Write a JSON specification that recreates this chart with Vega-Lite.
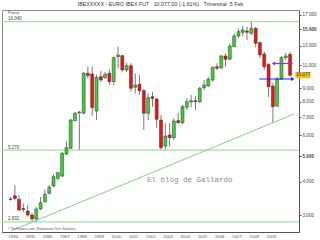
{
"$schema": "https://vega.github.io/schema/vega-lite/v6.json",
"width": 297, "height": 222,
"autosize": {"type": "none"},
"padding": {"left": 2, "top": 10, "right": 21, "bottom": 8},
"background": "white",
"title": {"text": "IBEXXXXX - EURO IBEX FUT\u00a0\u00a0\u00a010.077,00 (-1,61%)\u00a0\u00a0\u00a0Trimestral\u00a0\u00a05 Feb", "fontSize": 5.3, "fontWeight": "normal", "color": "#333", "offset": 3, "dx": 10, "anchor": "middle", "font": "Liberation Sans"},
"config": {"view": {"stroke": "#8a8a8a", "strokeWidth": 1}, "font": "Liberation Sans"},
"resolve": {"axis": {"x": "independent", "y": "independent"}},
"datasets": {
"candles": [
{"d":"1993-11-15","o":3450,"h":3510,"l":3405,"c":3437},
{"d":"1994-02-15","o":3552,"h":3896,"l":3437,"c":3461},
{"d":"1994-05-15","o":3443,"h":3573,"l":3111,"c":3138},
{"d":"1994-08-15","o":3179,"h":3320,"l":3084,"c":3152},
{"d":"1994-11-15","o":3111,"h":3277,"l":2966,"c":3005},
{"d":"1995-02-15","o":3005,"h":3058,"l":2853,"c":2903},
{"d":"1995-05-15","o":2903,"h":3221,"l":2832,"c":3165},
{"d":"1995-08-15","o":3165,"h":3512,"l":3138,"c":3343},
{"d":"1995-11-15","o":3372,"h":3747,"l":3349,"c":3595},
{"d":"1996-02-15","o":3626,"h":3896,"l":3595,"c":3819},
{"d":"1996-05-15","o":3862,"h":4285,"l":3829,"c":4186},
{"d":"1996-08-15","o":4128,"h":4371,"l":4069,"c":4334},
{"d":"1996-11-15","o":4211,"h":5184,"l":4175,"c":5127},
{"d":"1997-02-15","o":5096,"h":5668,"l":5052,"c":5382},
{"d":"1997-05-15","o":5354,"h":6899,"l":5321,"c":6840},
{"d":"1997-08-15","o":6799,"h":7331,"l":6781,"c":7249},
{"d":"1997-11-15","o":7267,"h":7395,"l":5280,"c":7331},
{"d":"1998-02-15","o":7249,"h":10366,"l":7205,"c":10249},
{"d":"1998-05-15","o":10249,"h":10852,"l":9815,"c":10039},
{"d":"1998-08-15","o":10187,"h":10852,"l":7100,"c":7609},
{"d":"1998-11-15","o":7395,"h":10100,"l":6840,"c":9900},
{"d":"1999-02-15","o":9953,"h":10456,"l":9506,"c":9672},
{"d":"1999-05-15","o":9866,"h":10393,"l":9756,"c":10161},
{"d":"1999-08-15","o":10249,"h":10611,"l":9262,"c":9531},
{"d":"1999-11-15","o":9531,"h":11834,"l":9262,"c":11732},
{"d":"2000-02-15","o":11834,"h":12900,"l":10703,"c":12010},
{"d":"2000-05-15","o":11938,"h":12010,"l":10393,"c":10547},
{"d":"2000-08-15","o":10547,"h":11205,"l":10366,"c":10947},
{"d":"2000-11-15","o":10947,"h":11176,"l":8740,"c":9000},
{"d":"2001-02-15","o":9079,"h":10249,"l":8618,"c":9262},
{"d":"2001-05-15","o":9318,"h":10100,"l":8493,"c":8816},
{"d":"2001-08-15","o":8816,"h":8946,"l":6273,"c":7249},
{"d":"2001-11-15","o":7249,"h":8618,"l":6840,"c":8296},
{"d":"2002-02-15","o":8369,"h":8717,"l":7655,"c":8253},
{"d":"2002-05-15","o":8203,"h":8275,"l":6366,"c":6882},
{"d":"2002-08-15","o":6840,"h":7143,"l":5270,"c":5382},
{"d":"2002-11-15","o":5462,"h":6647,"l":5290,"c":5955},
{"d":"2003-02-15","o":6007,"h":6647,"l":5429,"c":5868},
{"d":"2003-05-15","o":5868,"h":6941,"l":5752,"c":6781},
{"d":"2003-08-15","o":6799,"h":7286,"l":6647,"c":6681},
{"d":"2003-11-15","o":6681,"h":7789,"l":6605,"c":7675},
{"d":"2004-02-15","o":7635,"h":8253,"l":7459,"c":8014},
{"d":"2004-05-15","o":7993,"h":8493,"l":7655,"c":8084},
{"d":"2004-08-15","o":8084,"h":8420,"l":7459,"c":8014},
{"d":"2004-11-15","o":8014,"h":9103,"l":7925,"c":9000},
{"d":"2005-02-15","o":9048,"h":9672,"l":8869,"c":9262},
{"d":"2005-05-15","o":9182,"h":9953,"l":9127,"c":9731},
{"d":"2005-08-15","o":9672,"h":10852,"l":9531,"c":10796},
{"d":"2005-11-15","o":10852,"h":11176,"l":10547,"c":10703},
{"d":"2006-02-15","o":10759,"h":12010,"l":10611,"c":11906},
{"d":"2006-05-15","o":11906,"h":12188,"l":10852,"c":11571},
{"d":"2006-08-15","o":11571,"h":13290,"l":11501,"c":12983},
{"d":"2006-11-15","o":12905,"h":14490,"l":12838,"c":14156},
{"d":"2007-02-15","o":14156,"h":15129,"l":13877,"c":14691},
{"d":"2007-05-15","o":14615,"h":15435,"l":14071,"c":14909},
{"d":"2007-08-15","o":14781,"h":15342,"l":13675,"c":14615},
{"d":"2007-11-15","o":14490,"h":16040,"l":14279,"c":15129},
{"d":"2008-02-15","o":15129,"h":15302,"l":12838,"c":13290},
{"d":"2008-05-15","o":13359,"h":13475,"l":11671,"c":12010},
{"d":"2008-08-15","o":12114,"h":12358,"l":10547,"c":10852},
{"d":"2008-11-15","o":11080,"h":11176,"l":8347,"c":9127},
{"d":"2009-02-15","o":9182,"h":9424,"l":6700,"c":7675},
{"d":"2009-05-15","o":7722,"h":9953,"l":7635,"c":9756},
{"d":"2009-08-15","o":9756,"h":11906,"l":9672,"c":11732},
{"d":"2009-11-15","o":11732,"h":12252,"l":11501,"c":11906},
{"d":"2010-02-15","o":12083,"h":12293,"l":9953,"c":10077}
],
"levels": [
{"d":"1993-09-21","v":16040,"t":"16.040"},
{"d":"1993-09-21","v":5270,"t":"5.270"},
{"d":"1993-09-21","v":2832,"t":"2.832"}
],
"trend": [{"d":"1993-12-06","v":2624},{"d":"2010-05-09","v":7204}],
"guides": [
{"d":"2008-05-01","v":9756,"k":"a"},{"d":"2010-04-12","v":9756,"k":"a"},
{"d":"2009-02-26","v":11156,"k":"b"},{"d":"2010-04-12","v":11156,"k":"b"}
],
"arrows": [{"d":"2010-04-12","v":9756,"k":"a"},{"d":"2009-02-26","v":11156,"k":"b"}],
"last": [{"d":"2010-11-16","v":10077,"t":"10.077"}],
"watermark": [{"d":"2004-04-15","v":4069,"t":"El blog de Gallardo"}],
"credit": [{"d":"1993-09-21","v":2663,"t":"© ProFinance.com / Bolsamania Tech Solutions"}],
"caption": [{"d":"1993-09-21","v":17725,"t":"Precio"}]
},
"layer": [
{"data":{"name":"candles"},"mark":{"type":"rule","color":"#7a7a7a","strokeWidth":1},
 "encoding":{
  "x":{"field":"d","type":"temporal","scale":{"type":"time","domain":[{"year":1993,"month":9,"date":1},{"year":2010,"month":5,"date":9}]},
   "axis":{"orient":"bottom","title":null,"ticks":false,"grid":false,"domainColor":"#555","labelFontSize":4.3,"labelColor":"#555","labelPadding":2,"labelFlush":8,"labelOverlap":false,"tickCount":40,
    "values":[{"year":1994,"month":1,"date":1},{"year":1995,"month":1,"date":1},{"year":1996,"month":1,"date":1},{"year":1997,"month":1,"date":1},{"year":1998,"month":1,"date":1},{"year":1999,"month":1,"date":1},{"year":2000,"month":1,"date":1},{"year":2001,"month":1,"date":1},{"year":2002,"month":1,"date":1},{"year":2003,"month":1,"date":1},{"year":2004,"month":1,"date":1},{"year":2005,"month":1,"date":1},{"year":2006,"month":1,"date":1},{"year":2007,"month":1,"date":1},{"year":2008,"month":1,"date":1},{"year":2009,"month":1,"date":1}],"format":"%Y"}},
  "y":{"field":"l","type":"quantitative","scale":{"type":"log","domain":[2594,17725],"nice":false,"zero":false},
   "axis":{"orient":"right","title":null,"grid":false,"domainColor":"#555","tickColor":"#555","tickSize":2,"labelFontSize":4.6,"labelColor":"#444","labelPadding":1,"labelOverlap":false,"tickCount":40,
    "values":[3000,4000,5000,6000,7000,8000,9000,11000,13000,15000,17000],"labelExpr":"replace(format(datum.value, ',d'), ',', '.')",
    "labelFontWeight":{"condition":{"test":"datum.value == 15000 || datum.value == 5000","value":"bold"},"value":"normal"}}},
  "y2":{"field":"h"}
 }},
{"data":{"name":"levels"},"mark":{"type":"rule","color":"#a6dba6","strokeWidth":1.3},
 "encoding":{"y":{"field":"v","type":"quantitative","axis":null}}},
{"data":{"name":"levels"},"mark":{"type":"text","align":"left","baseline":"bottom","dy":-0.6,"fontSize":4.5,"color":"#444"},
 "encoding":{"x":{"field":"d","type":"temporal","axis":null},"y":{"field":"v","type":"quantitative","axis":null},"text":{"field":"t"}}},
{"data":{"name":"trend"},"mark":{"type":"line","color":"#6cbf6c","strokeWidth":0.8},
 "encoding":{"x":{"field":"d","type":"temporal","axis":null},"y":{"field":"v","type":"quantitative","axis":null}}},
{"data":{"name":"candles"},"mark":{"type":"bar","size":3,"stroke":"#333","strokeWidth":0.5},
 "encoding":{"x":{"field":"d","type":"temporal","axis":null},"y":{"field":"o","type":"quantitative","axis":null},"y2":{"field":"c"},
  "color":{"condition":{"test":"datum.c < datum.o","value":"#ee1414"},"value":"#44cc3c"}}},
{"data":{"name":"guides"},"mark":{"type":"line","strokeWidth":1.2},
 "encoding":{"x":{"field":"d","type":"temporal","axis":null},"y":{"field":"v","type":"quantitative","axis":null},
  "color":{"field":"k","type":"nominal","scale":{"domain":["a","b"],"range":["#2020e8","#a030d0"]},"legend":null}}},
{"data":{"name":"arrows"},"mark":{"type":"point","filled":true,"size":16,"opacity":1},
 "encoding":{"x":{"field":"d","type":"temporal","axis":null},"y":{"field":"v","type":"quantitative","axis":null},
  "color":{"field":"k","type":"nominal","scale":{"domain":["a","b"],"range":["#2020e8","#a030d0"]},"legend":null},
  "shape":{"field":"k","type":"nominal","scale":{"domain":["a","b"],"range":["triangle-right","triangle-left"]},"legend":null}}},
{"data":{"name":"last"},"mark":{"type":"point","filled":true,"size":234,"opacity":1,"color":"#f0c010","shape":"M-1,-0.39L1,-0.39L1,0.39L-1,0.39Z"},
 "encoding":{"x":{"field":"d","type":"temporal","axis":null},"y":{"field":"v","type":"quantitative","axis":null}}},
{"data":{"name":"last"},"mark":{"type":"text","fontSize":4.6,"color":"#333","baseline":"middle","align":"center"},
 "encoding":{"x":{"field":"d","type":"temporal","axis":null},"y":{"field":"v","type":"quantitative","axis":null},"text":{"field":"t"}}},
{"data":{"name":"watermark"},"mark":{"type":"text","font":"Liberation Mono","fontSize":7.5,"color":"#8c8c8c","align":"center","baseline":"middle"},
 "encoding":{"x":{"field":"d","type":"temporal","axis":null},"y":{"field":"v","type":"quantitative","axis":null},"text":{"field":"t"}}},
{"data":{"name":"credit"},"mark":{"type":"text","fontSize":3.2,"color":"#555","align":"left","baseline":"middle"},
 "encoding":{"x":{"field":"d","type":"temporal","axis":null},"y":{"field":"v","type":"quantitative","axis":null},"text":{"field":"t"}}},
{"data":{"name":"caption"},"mark":{"type":"text","fontSize":4,"color":"#444","align":"left","baseline":"top","dy":0.5},
 "encoding":{"x":{"field":"d","type":"temporal","axis":null},"y":{"field":"v","type":"quantitative","axis":null},"text":{"field":"t"}}}
]
}
